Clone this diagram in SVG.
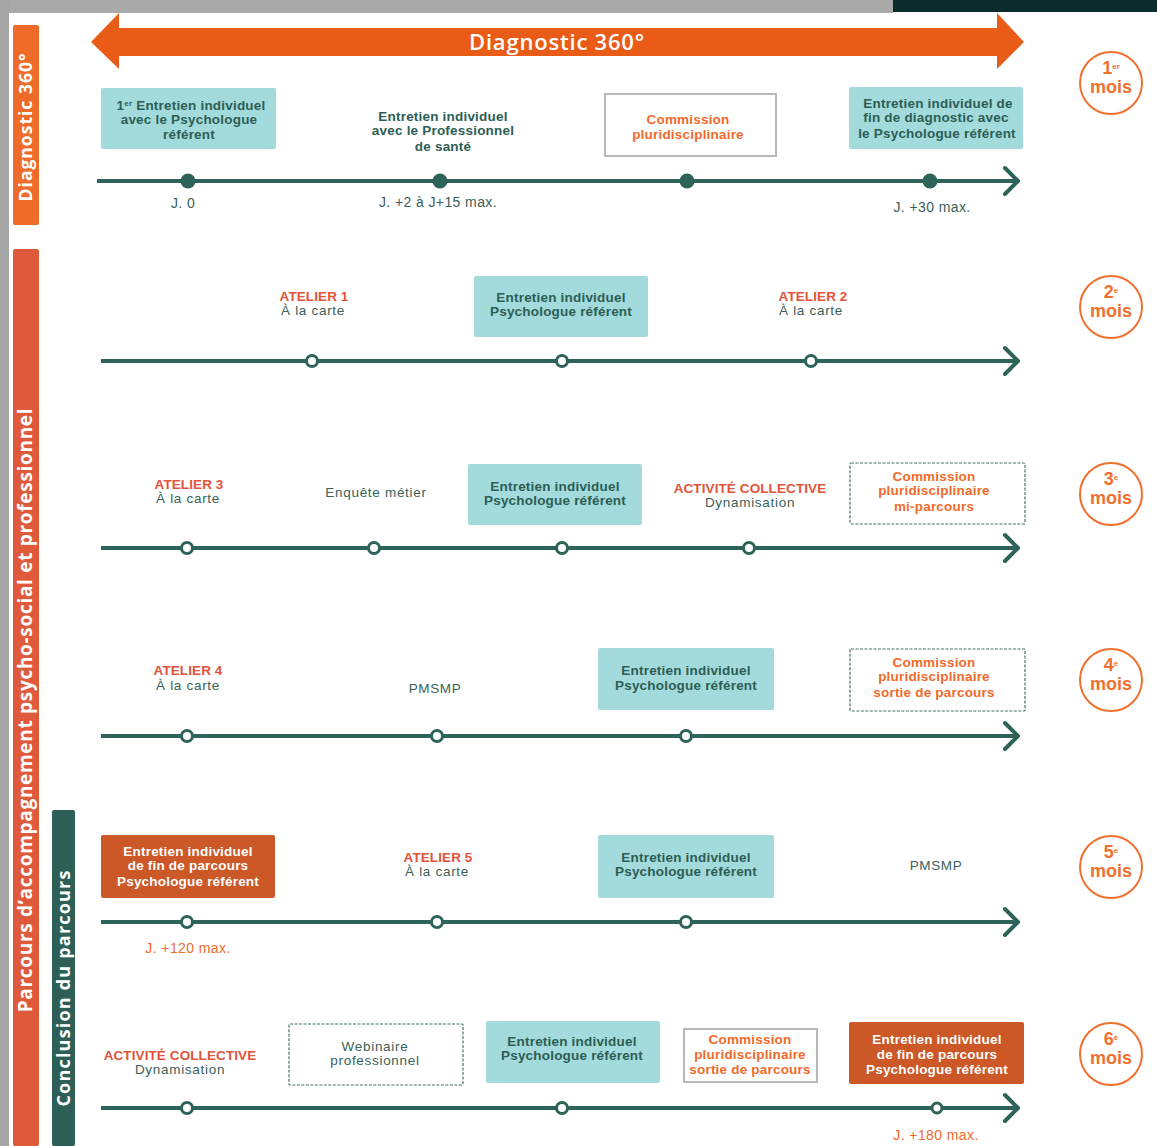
<svg xmlns="http://www.w3.org/2000/svg" width="1157" height="1146" viewBox="0 0 1157 1146">
<defs>
<style>
text{font-family:"Liberation Sans",Arial,sans-serif;text-anchor:middle}
.b{font-weight:700;font-size:13.5px;letter-spacing:0.2px;fill:#2c5e55}
.w{font-weight:700;font-size:13.5px;letter-spacing:0.2px;fill:#ffffff}
.o{font-weight:700;font-size:13.5px;letter-spacing:0.2px;fill:#f26a2a}
.at{font-weight:700;font-size:13.5px;letter-spacing:0.1px;fill:#e2533a}
.n{font-weight:400;font-size:13.5px;letter-spacing:0.7px;fill:#3a615a}
.jl{font-weight:400;font-size:14px;letter-spacing:0.4px;fill:#3a615a}
.jo{font-weight:400;font-size:14px;letter-spacing:0.4px;fill:#f26a2a}
.sup{font-size:8px}
.teal{fill:#a3dadb}
.gbox{fill:#ffffff;stroke:#b8b8b8;stroke-width:2}
.dbox{fill:#ffffff;stroke:#4a6e66;stroke-width:1.2;stroke-dasharray:3 1.5}
.obox{fill:#cc5727}
.tl{stroke:#2d6359;stroke-width:4;fill:none}
.chev{stroke:#2d6359;stroke-width:4;fill:none;stroke-linecap:round;stroke-linejoin:round}
.fd{fill:#2d6359}
.hd{fill:#ffffff;stroke:#2d6359;stroke-width:3}
.mc{fill:#ffffff;stroke:#f07030;stroke-width:2}
.mt{font-weight:700;font-size:18px;fill:#f07030}
.vt{font-family:"Open Sans","Liberation Sans",sans-serif;font-weight:700;fill:#ffffff}
</style>
</defs>
<rect x="0" y="0" width="1157" height="1146" fill="#ffffff"/>
<rect x="0" y="0" width="893" height="13" fill="#a9a9a9"/>
<rect x="893" y="0" width="264" height="12" fill="#0c2b2b"/>
<rect x="0" y="0" width="9" height="1146" fill="#a5a5a5"/>

<g id="banner-diagnostic">
<polygon points="91,42 119,13 119,28 997,28 997,13 1024,42 997,69 997,56 119,56 119,69" fill="#e95c18"/>
<text x="557" y="50" style="font-family:'Open Sans','Liberation Sans',sans-serif;font-weight:600;font-size:22px;fill:#ffffff;letter-spacing:0.8px">Diagnostic 360°</text>
</g>

<g id="bar-diagnostic">
<rect x="13" y="25" width="26" height="200" rx="2" fill="#ef6b2a"/>
<text class="vt" transform="translate(32,127) rotate(-90)" style="font-size:17.5px;letter-spacing:1px">Diagnostic 360°</text>
</g>
<g id="bar-parcours">
<rect x="13" y="249" width="26" height="897" rx="2" fill="#df5a3b"/>
<text class="vt" transform="translate(32,710) rotate(-90)" style="font-size:19px;letter-spacing:0.7px">Parcours d’accompagnement psycho-social et professionnel</text>
</g>
<g id="bar-conclusion">
<rect x="52" y="810" width="23" height="336" rx="2" fill="#2e5f57"/>
<text class="vt" transform="translate(70,988) rotate(-90)" style="font-size:18px;letter-spacing:1.2px">Conclusion du parcours</text>
</g>

<g id="connectors">
<line class="tl" x1="97" y1="181" x2="1018" y2="181"/>
<polyline class="chev" points="1005,168 1018,181 1005,194"/>
<line class="tl" x1="101" y1="361" x2="1018" y2="361"/>
<polyline class="chev" points="1005,348 1018,361 1005,374"/>
<line class="tl" x1="101" y1="548" x2="1018" y2="548"/>
<polyline class="chev" points="1005,535 1018,548 1005,561"/>
<line class="tl" x1="101" y1="736" x2="1018" y2="736"/>
<polyline class="chev" points="1005,723 1018,736 1005,749"/>
<line class="tl" x1="101" y1="922" x2="1018" y2="922"/>
<polyline class="chev" points="1005,909 1018,922 1005,935"/>
<line class="tl" x1="101" y1="1108" x2="1018" y2="1108"/>
<polyline class="chev" points="1005,1095 1018,1108 1005,1121"/>
<circle class="fd" cx="188" cy="181" r="7.5"/>
<circle class="fd" cx="440" cy="181" r="7.5"/>
<circle class="fd" cx="687" cy="181" r="7.5"/>
<circle class="fd" cx="930" cy="181" r="7.5"/>
<circle class="hd" cx="312" cy="361" r="5.5"/>
<circle class="hd" cx="562" cy="361" r="5.5"/>
<circle class="hd" cx="811" cy="361" r="5.5"/>
<circle class="hd" cx="187" cy="548" r="5.5"/>
<circle class="hd" cx="374" cy="548" r="5.5"/>
<circle class="hd" cx="562" cy="548" r="5.5"/>
<circle class="hd" cx="749" cy="548" r="5.5"/>
<circle class="hd" cx="187" cy="736" r="5.5"/>
<circle class="hd" cx="437" cy="736" r="5.5"/>
<circle class="hd" cx="686" cy="736" r="5.5"/>
<circle class="hd" cx="187" cy="922" r="5.5"/>
<circle class="hd" cx="437" cy="922" r="5.5"/>
<circle class="hd" cx="686" cy="922" r="5.5"/>
<circle class="hd" cx="187" cy="1108" r="5.5"/>
<circle class="hd" cx="562" cy="1108" r="5.5"/>
<circle class="hd" cx="937" cy="1108" r="5"/>
</g>

<!-- Row 1 -->
<g id="r1-entretien1">
<rect class="teal" x="101" y="88" width="175" height="61" rx="2"/>
<text class="b" x="191" y="110">1<tspan class="sup" dy="-4">er</tspan><tspan dy="4"> Entretien individuel</tspan><tspan x="189" dy="14">avec le Psychologue</tspan><tspan x="189" dy="15">référent</tspan></text>
</g>
<g id="r1-entretien-sante">
<text class="b" x="443" y="121">Entretien individuel<tspan x="443" dy="14">avec le Professionnel</tspan><tspan x="443" dy="16">de santé</tspan></text>
</g>
<g id="r1-commission">
<rect class="gbox" x="605" y="94" width="171" height="62"/>
<text class="o" x="688" y="124">Commission<tspan x="688" dy="15">pluridisciplinaire</tspan></text>
</g>
<g id="r1-entretien-fin">
<rect class="teal" x="849" y="87" width="174" height="62" rx="2"/>
<text class="b" x="938" y="108">Entretien individuel de<tspan x="936" dy="14">fin de diagnostic avec</tspan><tspan x="937" dy="16">le Psychologue référent</tspan></text>
</g>
<g id="r1-j0"><text class="jl" x="183" y="208">J. 0</text></g>
<g id="r1-j15"><text class="jl" x="438" y="207">J. +2 à J+15 max.</text></g>
<g id="r1-j30"><text class="jl" x="932" y="212">J. +30 max.</text></g>
<g id="m1">
<circle class="mc" cx="1111" cy="83" r="31"/>
<text class="mt" x="1111" y="74">1<tspan class="sup" dy="-5">er</tspan><tspan x="1111" dy="24">mois</tspan></text>
</g>

<!-- Row 2 -->
<g id="r2-atelier1">
<text x="314" y="301"><tspan class="at">ATELIER 1</tspan><tspan class="n" x="313" dy="14">À la carte</tspan></text>
</g>
<g id="r2-entretien">
<rect class="teal" x="474" y="276" width="174" height="61" rx="2"/>
<text class="b" x="561" y="302">Entretien individuel<tspan x="561" dy="14">Psychologue référent</tspan></text>
</g>
<g id="r2-atelier2">
<text x="813" y="301"><tspan class="at">ATELIER 2</tspan><tspan class="n" x="811" dy="14">À la carte</tspan></text>
</g>
<g id="m2">
<circle class="mc" cx="1111" cy="307" r="31"/>
<text class="mt" x="1111" y="298">2<tspan class="sup" dy="-5">e</tspan><tspan x="1111" dy="24">mois</tspan></text>
</g>

<!-- Row 3 -->
<g id="r3-atelier3">
<text x="189" y="489"><tspan class="at">ATELIER 3</tspan><tspan class="n" x="188" dy="14">À la carte</tspan></text>
</g>
<g id="r3-enquete">
<text class="n" x="376" y="497">Enquête métier</text>
</g>
<g id="r3-entretien">
<rect class="teal" x="468" y="464" width="174" height="61" rx="2"/>
<text class="b" x="555" y="491">Entretien individuel<tspan x="555" dy="14">Psychologue référent</tspan></text>
</g>
<g id="r3-activite">
<text x="750" y="493"><tspan class="at">ACTIVITÉ COLLECTIVE</tspan><tspan class="n" x="750" dy="14">Dynamisation</tspan></text>
</g>
<g id="r3-commission">
<rect class="dbox" x="850" y="463" width="175" height="61" rx="1"/>
<text class="o" x="934" y="481">Commission<tspan x="934" dy="14">pluridisciplinaire</tspan><tspan x="934" dy="16">mi-parcours</tspan></text>
</g>
<g id="m3">
<circle class="mc" cx="1111" cy="494" r="31"/>
<text class="mt" x="1111" y="485">3<tspan class="sup" dy="-5">e</tspan><tspan x="1111" dy="24">mois</tspan></text>
</g>

<!-- Row 4 -->
<g id="r4-atelier4">
<text x="188" y="675"><tspan class="at">ATELIER 4</tspan><tspan class="n" x="188" dy="15">À la carte</tspan></text>
</g>
<g id="r4-pmsmp">
<text class="n" x="435" y="693" style="letter-spacing:0.6px">PMSMP</text>
</g>
<g id="r4-entretien">
<rect class="teal" x="598" y="648" width="176" height="62" rx="2"/>
<text class="b" x="686" y="675">Entretien individuel<tspan x="686" dy="15">Psychologue référent</tspan></text>
</g>
<g id="r4-commission">
<rect class="dbox" x="850" y="649" width="175" height="62" rx="1"/>
<text class="o" x="934" y="667">Commission<tspan x="934" dy="14">pluridisciplinaire</tspan><tspan x="934" dy="16">sortie de parcours</tspan></text>
</g>
<g id="m4">
<circle class="mc" cx="1111" cy="680" r="31"/>
<text class="mt" x="1111" y="671">4<tspan class="sup" dy="-5">e</tspan><tspan x="1111" dy="24">mois</tspan></text>
</g>

<!-- Row 5 -->
<g id="r5-entretien-fin">
<rect class="obox" x="101" y="835" width="174" height="63" rx="2"/>
<text class="w" x="188" y="856">Entretien individuel<tspan x="188" dy="14">de fin de parcours</tspan><tspan x="188" dy="16">Psychologue référent</tspan></text>
</g>
<g id="r5-atelier5">
<text x="438" y="862"><tspan class="at">ATELIER 5</tspan><tspan class="n" x="437" dy="14">À la carte</tspan></text>
</g>
<g id="r5-entretien">
<rect class="teal" x="598" y="835" width="176" height="63" rx="2"/>
<text class="b" x="686" y="862">Entretien individuel<tspan x="686" dy="14">Psychologue référent</tspan></text>
</g>
<g id="r5-pmsmp">
<text class="n" x="936" y="870" style="letter-spacing:0.6px">PMSMP</text>
</g>
<g id="r5-j120"><text class="jo" x="188" y="953">J. +120 max.</text></g>
<g id="m5">
<circle class="mc" cx="1111" cy="867" r="31"/>
<text class="mt" x="1111" y="858">5<tspan class="sup" dy="-5">e</tspan><tspan x="1111" dy="24">mois</tspan></text>
</g>

<!-- Row 6 -->
<g id="r6-activite">
<text x="180" y="1060"><tspan class="at">ACTIVITÉ COLLECTIVE</tspan><tspan class="n" x="180" dy="14">Dynamisation</tspan></text>
</g>
<g id="r6-webinaire">
<rect class="dbox" x="289" y="1024" width="174" height="61" rx="1"/>
<text class="n" x="375" y="1051">Webinaire<tspan x="375" dy="14">professionnel</tspan></text>
</g>
<g id="r6-entretien">
<rect class="teal" x="486" y="1021" width="174" height="62" rx="2"/>
<text class="b" x="572" y="1046">Entretien individuel<tspan x="572" dy="14">Psychologue référent</tspan></text>
</g>
<g id="r6-commission">
<rect class="gbox" x="684" y="1029" width="133" height="53"/>
<text class="o" x="750" y="1044">Commission<tspan x="750" dy="15">pluridisciplinaire</tspan><tspan x="750" dy="15">sortie de parcours</tspan></text>
</g>
<g id="r6-entretien-fin">
<rect class="obox" x="849" y="1022" width="175" height="62" rx="2"/>
<text class="w" x="937" y="1044">Entretien individuel<tspan x="937" dy="15">de fin de parcours</tspan><tspan x="937" dy="15">Psychologue référent</tspan></text>
</g>
<g id="r6-j180"><text class="jo" x="936" y="1140">J. +180 max.</text></g>
<g id="m6">
<circle class="mc" cx="1111" cy="1054" r="31"/>
<text class="mt" x="1111" y="1045">6<tspan class="sup" dy="-5">e</tspan><tspan x="1111" dy="24">mois</tspan></text>
</g>
</svg>
